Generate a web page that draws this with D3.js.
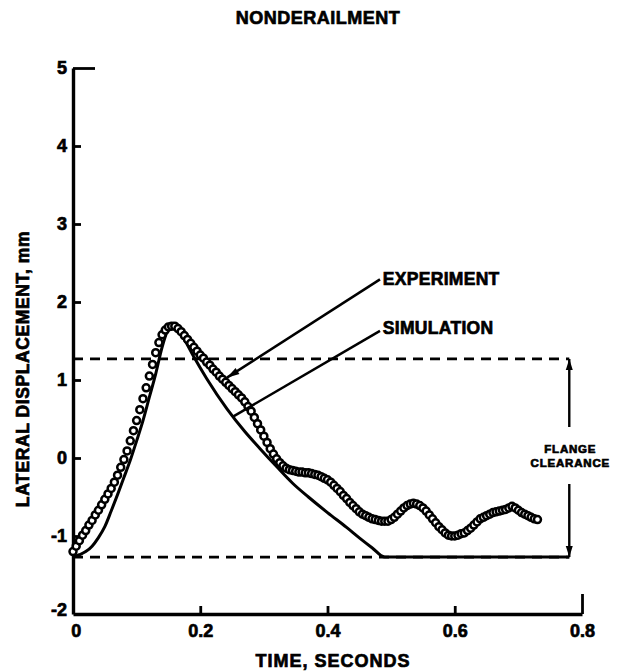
<!DOCTYPE html>
<html>
<head>
<meta charset="utf-8">
<script src="https://cdn.jsdelivr.net/npm/d3@7"></script>
<style>
  html, body { margin: 0; padding: 0; background: #fff; }
  svg { display: block; }
  text { font-family: "Liberation Sans", Arial, sans-serif; font-weight: bold; fill: #000; stroke: #000; stroke-width: 0.7px; }
</style>
</head>
<body>
<script>
// ---------- data ----------
const title = "NONDERAILMENT";
const xLabel = "TIME, SECONDS";
const yLabel = "LATERAL DISPLACEMENT, mm";
const xTicks = [0, 0.2, 0.4, 0.6, 0.8];
const xTickLabels = ["0", "0.2", "0.4", "0.6", "0.8"];
const yTicks = [-2, -1, 0, 1, 2, 3, 4, 5];
const yTickLabels = ["-2", "-1", "0", "1", "2", "3", "4", "5"];
const flangeClearance = [1.27, -1.27];
const flangeTime = 0.78;

// experiment (open circles), time s
const expTime = [
  0.000,0.005,0.010,0.015,0.020,0.025,0.030,0.035,0.040,0.045,0.050,0.055,0.060,0.065,0.070,0.075,0.080,0.085,0.090,0.095,
  0.100,0.105,0.110,0.115,0.120,0.125,0.130,0.135,0.140,0.145,0.150,0.155,0.160,0.165,0.170,0.175,0.180,0.185,0.190,0.195,
  0.200,0.205,0.210,0.215,0.220,0.225,0.230,0.235,0.240,0.245,0.250,0.255,0.260,0.265,0.270,0.275,0.280,0.285,0.290,0.295,
  0.300,0.305,0.310,0.315,0.320,0.325,0.330,0.335,0.340,0.345,0.350,0.355,0.360,0.365,0.370,0.375,0.380,0.385,0.390,0.395,
  0.400,0.405,0.410,0.415,0.420,0.425,0.430,0.435,0.440,0.445,0.450,0.455,0.460,0.465,0.470,0.475,0.480,0.485,0.490,0.495,
  0.500,0.505,0.510,0.515,0.520,0.525,0.530,0.535,0.540,0.545,0.550,0.555,0.560,0.565,0.570,0.575,0.580,0.585,0.590,0.595,
  0.600,0.605,0.610,0.615,0.620,0.625,0.630,0.635,0.640,0.645,0.650,0.655,0.660,0.665,0.670,0.675,0.680,0.685,0.690,0.695,
  0.700,0.705,0.710,0.715,0.720,0.725,0.730
];
// experiment lateral displacement, mm
const expDisp = [
  -1.20,-1.13,-1.06,-0.99,-0.93,-0.86,-0.80,-0.73,-0.67,-0.60,-0.53,-0.46,-0.39,-0.31,-0.22,-0.12,-0.02,0.09,0.22,0.35,
  0.48,0.62,0.76,0.90,1.05,1.20,1.35,1.48,1.58,1.64,1.68,1.69,1.69,1.66,1.62,1.57,1.52,1.47,1.42,1.37,
  1.32,1.28,1.23,1.19,1.14,1.10,1.05,1.01,0.97,0.93,0.89,0.85,0.81,0.77,0.72,0.66,0.60,0.52,0.44,0.36,
  0.28,0.20,0.12,0.05,-0.01,-0.06,-0.10,-0.13,-0.15,-0.16,-0.17,-0.18,-0.18,-0.19,-0.19,-0.20,-0.21,-0.22,-0.24,-0.26,
  -0.28,-0.31,-0.35,-0.39,-0.43,-0.48,-0.52,-0.57,-0.61,-0.65,-0.69,-0.72,-0.74,-0.76,-0.78,-0.79,-0.80,-0.81,-0.81,-0.81,
  -0.79,-0.76,-0.72,-0.68,-0.64,-0.61,-0.59,-0.58,-0.59,-0.61,-0.64,-0.68,-0.73,-0.78,-0.83,-0.88,-0.92,-0.96,-0.99,-1.00,
  -1.00,-0.99,-0.97,-0.96,-0.93,-0.90,-0.86,-0.82,-0.78,-0.76,-0.74,-0.72,-0.70,-0.69,-0.68,-0.67,-0.66,-0.64,-0.62,-0.64,
  -0.67,-0.70,-0.72,-0.74,-0.76,-0.78,-0.79
];

// simulation (solid line)
const simTime = [0.000,0.010,0.020,0.030,0.040,0.050,0.060,0.070,0.080,0.090,0.100,0.110,0.120,0.130,0.140,0.148,0.156,
  0.165,0.175,0.189,0.210,0.242,0.270,0.294,0.320,0.346,0.370,0.400,0.430,0.451,0.470,0.490,0.780];
const simDisp = [-1.27,-1.24,-1.20,-1.13,-1.02,-0.88,-0.68,-0.47,-0.25,-0.03,0.22,0.48,0.78,1.08,1.42,1.62,1.70,
  1.64,1.52,1.31,1.02,0.63,0.34,0.12,-0.11,-0.33,-0.50,-0.70,-0.89,-1.03,-1.15,-1.27,-1.27];

// annotations: [label, label anchor (t, mm), leader end (t, mm), arrowhead]
const annLabels = ["EXPERIMENT", "SIMULATION"];
const annTextPos = [[0.487, 2.30], [0.487, 1.67]];
const annFrom = [[0.4825, 2.29], [0.4825, 1.63]];
const annTo = [[0.242, 1.03], [0.2515, 0.53]];
const annArrow = [true, false];
const flangeLabel = ["FLANGE", "CLEARANCE"];

// ---------- drawing ----------
const W = 618, H = 672;
const svg = d3.select("body").append("svg").attr("width", W).attr("height", H);

const x = d3.scaleLinear().domain([0, 0.8]).range([73, 582]);
const y = d3.scaleLinear().domain([-2, 5]).range([614, 68]);

// title
svg.append("text").attr("x", 318).attr("y", 24).attr("text-anchor", "middle")
  .attr("font-size", 18).attr("letter-spacing", 0.5).text(title);

// y axis
const yAxis = svg.append("g").attr("transform", `translate(${x(0)},0)`)
  .call(d3.axisLeft(y).tickValues(yTicks).tickFormat((d, i) => yTickLabels[i])
    .tickSize(-8).tickSizeOuter(0).tickPadding(6));
yAxis.select(".domain").attr("stroke", "#000").attr("stroke-width", 3.4);
yAxis.selectAll(".tick line").attr("stroke", "#000").attr("stroke-width", 2.8)
  .attr("x2", d => d === 5 ? 22 : 8);
yAxis.selectAll(".tick").filter(d => d === -2).select("line").remove();
yAxis.selectAll(".tick text").attr("font-size", 18).attr("font-family", "Liberation Sans, Arial, sans-serif")
  .attr("font-weight", "bold").attr("fill", "#000");
yAxis.selectAll(".tick").filter(d => d === -2).select("text").attr("dy", "0.1em");

// x axis
const xAxis = svg.append("g").attr("transform", `translate(0,${y(-2)})`)
  .call(d3.axisBottom(x).tickValues(xTicks).tickFormat((d, i) => xTickLabels[i])
    .tickSize(-8).tickSizeOuter(0).tickPadding(10));
xAxis.select(".domain").attr("stroke", "#000").attr("stroke-width", 3.4);
xAxis.selectAll(".tick line").attr("stroke", "#000").attr("stroke-width", 2.8)
  .attr("y2", d => d === 0.8 ? -20 : -8);
xAxis.selectAll(".tick").filter(d => d === 0).select("line").remove();
xAxis.selectAll(".tick text").attr("font-size", 18).attr("font-family", "Liberation Sans, Arial, sans-serif")
  .attr("font-weight", "bold").attr("fill", "#000");
xAxis.selectAll(".tick").filter(d => d === 0).select("text").attr("dx", "0.15em");

// axis labels
svg.append("text").attr("x", 333).attr("y", 667).attr("text-anchor", "middle")
  .attr("font-size", 18).attr("letter-spacing", 1).text(xLabel);
svg.append("text").attr("transform", `translate(29,${369}) rotate(-90)`).attr("text-anchor", "middle")
  .attr("font-size", 17.5).attr("letter-spacing", 0.6).text(yLabel);

// flange clearance dashed lines
svg.selectAll("line.flange").data(flangeClearance).join("line").attr("class", "flange")
  .attr("x1", x(0)).attr("x2", x(flangeTime)).attr("y1", d => y(d)).attr("y2", d => y(d))
  .attr("stroke", "#000").attr("stroke-width", 2.8).attr("stroke-dasharray", "10,7");

// flange clearance dimension line with gap for label
const gapTop = 427, gapBot = 484;
svg.append("line").attr("x1", x(flangeTime)).attr("x2", x(flangeTime))
  .attr("y1", y(flangeClearance[0])).attr("y2", gapTop).attr("stroke", "#000").attr("stroke-width", 2.4);
svg.append("line").attr("x1", x(flangeTime)).attr("x2", x(flangeTime))
  .attr("y1", gapBot).attr("y2", y(flangeClearance[1])).attr("stroke", "#000").attr("stroke-width", 2.4);
flangeClearance.forEach((v, i) => {
  const px = x(flangeTime), py = y(v), s = i === 0 ? 1 : -1;
  svg.append("path").attr("d", `M${px},${py} L${px - 3.5},${py + s * 11} L${px + 3.5},${py + s * 11} Z`).attr("fill", "#000");
});
svg.selectAll("text.flab").data(flangeLabel).join("text").attr("class", "flab")
  .attr("x", x(flangeTime) + 1).attr("y", (d, i) => 453 + i * 14).attr("text-anchor", "middle")
  .attr("font-size", 11.5).attr("letter-spacing", 0.8).text(d => d);

// simulation line
const simData = simTime.map((t, i) => [t, simDisp[i]]);
svg.append("path").datum(simData)
  .attr("d", d3.line().x(d => x(d[0])).y(d => y(d[1])).curve(d3.curveMonotoneX))
  .attr("fill", "none").attr("stroke", "#000").attr("stroke-width", 3).attr("stroke-linejoin", "round");

// experiment circles
const expData = expTime.map((t, i) => [t, expDisp[i]]);
svg.selectAll("circle.exp").data(expData).join("circle").attr("class", "exp")
  .attr("cx", d => x(d[0])).attr("cy", d => y(d[1])).attr("r", 3.5)
  .attr("fill", "#fff").attr("stroke", "#000").attr("stroke-width", 2.5);

// annotations
annLabels.forEach((lab, i) => {
  const x1 = x(annFrom[i][0]), y1 = y(annFrom[i][1]);
  const x2 = x(annTo[i][0]), y2 = y(annTo[i][1]);
  svg.append("line").attr("x1", x1).attr("y1", y1).attr("x2", x2).attr("y2", y2)
    .attr("stroke", "#000").attr("stroke-width", 2.5);
  if (annArrow[i]) {
    const a = Math.atan2(y1 - y2, x1 - x2), L = 13, w = 0.28;
    const p1 = [x2 + L * Math.cos(a - w), y2 + L * Math.sin(a - w)];
    const p2 = [x2 + L * Math.cos(a + w), y2 + L * Math.sin(a + w)];
    svg.append("path").attr("d", `M${x2},${y2}L${p1[0]},${p1[1]}L${p2[0]},${p2[1]}Z`).attr("fill", "#000");
  }
  svg.append("text").attr("x", x(annTextPos[i][0])).attr("y", y(annTextPos[i][1]) + 6)
    .attr("font-size", 17.5).attr("letter-spacing", 0.3).text(lab);
});
</script>
</body>
</html>
